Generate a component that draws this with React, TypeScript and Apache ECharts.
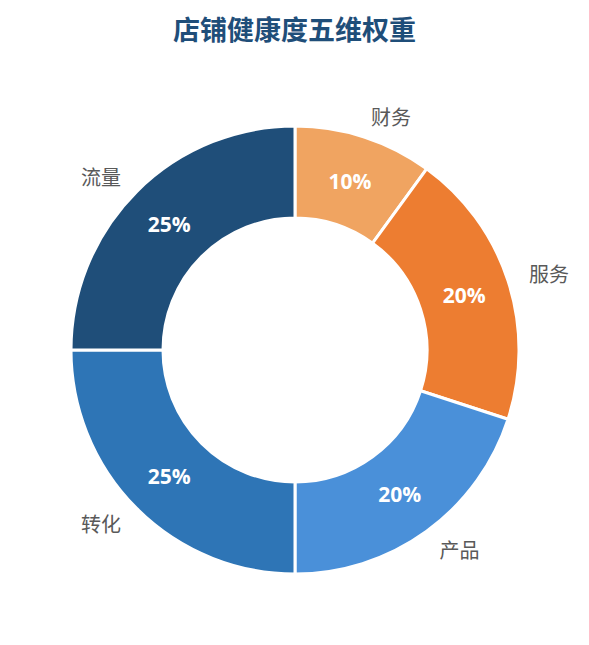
import { useEffect, useRef } from "react";
import * as echarts from "echarts";

const titleText = "店铺健康度五维权重";
const categories = ["财务", "服务", "产品", "转化", "流量"];
const weights = [10, 20, 20, 25, 25];
const colors = ["#f0a461", "#ed7d31", "#4a90d9", "#2e75b6", "#1f4e79"];

const FONT = "'Noto Sans CJK SC', 'Noto Sans', sans-serif";

export default function App() {
  const ref = useRef<HTMLDivElement | null>(null);

  useEffect(() => {
    if (!ref.current) return;
    const chart = echarts.init(ref.current, undefined, { renderer: "svg" });

    const data = categories.map((name, i) => ({
      name,
      value: weights[i],
      itemStyle: { color: colors[i] },
    }));

    chart.setOption({
      animation: false,
      title: {
        text: titleText,
        left: "center",
        top: 2,
        textStyle: { fontSize: 27, fontWeight: "bold", color: "#1f4e79", fontFamily: FONT },
      },
      series: [
        {
          type: "pie",
          center: [287, 342],
          radius: [132, 224],
          startAngle: 90,
          clockwise: true,
          itemStyle: { borderColor: "#fff", borderWidth: 3 },
          label: {
            show: true,
            position: "outside",
            formatter: "{b}",
            fontSize: 20,
            color: "#595959",
            fontFamily: FONT,
            distanceToLabelLine: 0,
          },
          labelLine: { show: false, length: 22, length2: 0 },
          data,
        },
        {
          type: "pie",
          center: [287, 342],
          radius: [128, 222],
          startAngle: 90,
          clockwise: true,
          silent: true,
          itemStyle: { color: "transparent", borderWidth: 0 },
          label: {
            show: true,
            position: "inside",
            formatter: "{c}%",
            fontSize: 21,
            fontWeight: "bold",
            color: "#fff",
            fontFamily: "'Open Sans', 'Noto Sans', sans-serif",
          },
          labelLine: { show: false },
          data: categories.map((name, i) => ({ name, value: weights[i] })),
        },
      ],
    });

    return () => chart.dispose();
  }, []);

  return <div ref={ref} style={{ width: 573, height: 629 }} />;
}
